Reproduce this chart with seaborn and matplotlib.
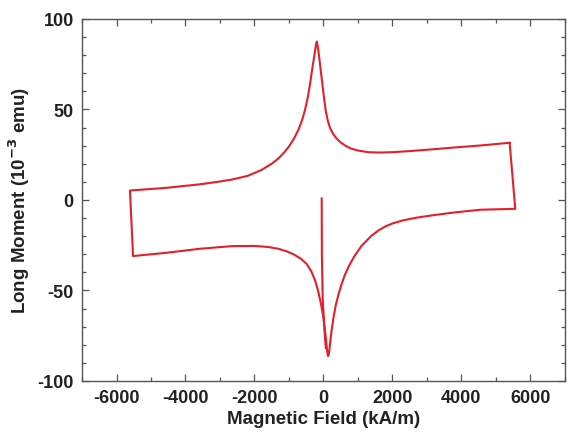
import numpy as np
import pandas as pd
import seaborn as sns
import matplotlib
matplotlib.use("Agg")
import matplotlib.pyplot as plt
from matplotlib.ticker import MultipleLocator

# Descending-field branch (from +H corner to -H corner)
upper_x = [5400, 4556, 3800, 3117, 2500, 2000, 1600, 1300, 1000, 800, 650, 500, 380, 280, 200, 130, 70, 20,
           -30, -80, -120, -150, -175, -192, -210, -235, -270, -320, -380, -450, -530, -620, -720, -850,
           -1000, -1150, -1300, -1500, -1800, -2200, -2647, -3100, -3597, -4555, -5610]
upper_y = [31.6, 30.1, 29.0, 27.9, 27.0, 26.4, 26.2, 26.4, 27.3, 28.4, 29.8, 31.8, 34.0, 36.5, 39.5, 43.5, 49.0, 56.0,
           64.0, 72.0, 78.5, 83.0, 86.0, 87.5, 86.5, 83.5, 79.0, 73.0, 65.0, 57.0, 50.0, 44.0, 39.0, 34.0,
           29.5, 26.0, 23.0, 20.0, 16.5, 13.3, 11.3, 9.9, 8.6, 6.7, 5.2]
# Ascending-field branch (from -H corner to +H corner)
lower_x = [-5520, -4555, -3597, -2640, -2000, -1600, -1300, -1050, -850, -650, -480, -350, -240, -150, -70, 0,
           50, 90, 115, 135, 160, 190, 230, 288, 360, 440, 527, 620, 740, 900, 1100, 1390, 1600, 1800, 2000, 2300, 2700,
           3117, 3800, 4556, 5563]
lower_y = [-31.0, -29.2, -27.0, -25.5, -25.4, -26.0, -27.0, -28.5, -30.2, -32.5, -35.5, -39.5, -44.5, -50.5, -57.5, -65.0,
           -73.0, -80.0, -84.5, -86.3, -85.0, -80.0, -73.0, -65.5, -58.0, -52.0, -46.5, -41.5, -36.5, -31.0, -25.5, -19.8, -16.8, -14.6, -13.0, -11.3, -9.8,
           -8.6, -6.9, -5.4, -4.9]
# Initial curve
virgin_x = [-50, -45, -20, 30, 70]
virgin_y = [1.0, -30.0, -55.0, -72.0, -82.0]

x_ticks = [-6000, -4000, -2000, 0, 2000, 4000, 6000]
y_ticks = [-100, -50, 0, 50, 100]

loop_x = upper_x + lower_x + [upper_x[0]]
loop_y = upper_y + lower_y + [upper_y[0]]
df = pd.DataFrame({
    "H": loop_x + virgin_x,
    "M": loop_y + virgin_y,
    "seg": ["loop"] * len(loop_x) + ["virgin"] * len(virgin_x),
})

sns.set_theme(style="ticks")
plt.rcParams["font.family"] = ["Liberation Sans", "DejaVu Sans"]
plt.rcParams["font.weight"] = "bold"
plt.rcParams["axes.unicode_minus"] = False

fig = plt.figure(figsize=(5.68, 4.39), dpi=100)
ax = fig.add_axes([0.1444, 0.130, 0.850, 0.8245])

sns.lineplot(data=df, x="H", y="M", units="seg", estimator=None, sort=False,
             color="#e3202a", linewidth=1.5, ax=ax)

ax.set_xlim(-7000, 7000)
ax.set_ylim(-100, 100)
ax.set_xticks(x_ticks)
ax.set_yticks(y_ticks)
ax.xaxis.set_minor_locator(MultipleLocator(1000))
ax.yaxis.set_minor_locator(MultipleLocator(10))
ax.tick_params(which="both", direction="in", top=True, right=True, colors="#555555",
               labelcolor="#222222", labelsize=13, width=0.9)
ax.tick_params(which="major", length=5, pad=6)
ax.tick_params(which="minor", length=3)
for lab in ax.get_xticklabels() + ax.get_yticklabels():
    lab.set_fontweight("bold")
for s in ax.spines.values():
    s.set_color("#555555")
    s.set_linewidth(1.0)

ax.set_xlabel("Magnetic Field (kA/m)", fontsize=13.5, fontweight="bold", color="#222222", labelpad=3)
ax.set_ylabel("Long Moment (10$^{-3}$ emu)", fontsize=13.5, fontweight="bold", color="#222222", labelpad=4)

fig.savefig("out.png", dpi=100)
